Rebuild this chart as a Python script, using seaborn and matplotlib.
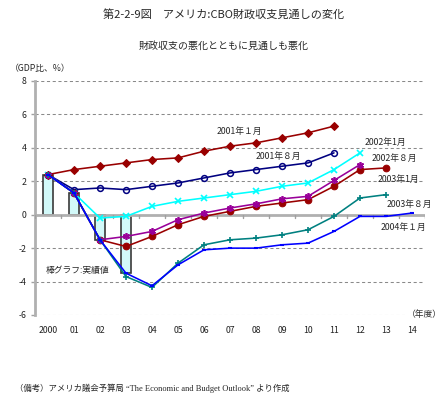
import numpy as np
import pandas as pd
import matplotlib
matplotlib.use('Agg')
import matplotlib.pyplot as plt
import seaborn as sns

nan = np.nan
years = ['2000', '01', '02', '03', '04', '05', '06', '07', '08', '09', '10', '11', '12', '13', '14']
actual = [2.4, 1.3, -1.5, -3.5, nan, nan, nan, nan, nan, nan, nan, nan, nan, nan, nan]
s_2001_01 = [2.4, 2.7, 2.9, 3.1, 3.3, 3.4, 3.8, 4.1, 4.3, 4.6, 4.9, 5.3, nan, nan, nan]
s_2001_08 = [2.4, 1.5, 1.6, 1.5, 1.7, 1.9, 2.2, 2.5, 2.7, 2.9, 3.1, 3.7, nan, nan, nan]
s_2002_01 = [2.4, 1.3, -0.2, -0.1, 0.5, 0.8, 1.0, 1.2, 1.4, 1.7, 1.9, 2.7, 3.7, nan, nan]
s_2002_08 = [2.4, 1.3, -1.5, -1.9, -1.3, -0.6, -0.1, 0.2, 0.5, 0.7, 0.9, 1.7, 2.7, 2.8, nan]
s_2003_01 = [2.4, 1.3, -1.5, -1.3, -1.0, -0.3, 0.1, 0.4, 0.65, 0.95, 1.1, 2.05, 3.0, nan, nan]
s_2003_08 = [2.4, 1.3, -1.5, -3.7, -4.35, -2.9, -1.8, -1.5, -1.4, -1.2, -0.9, -0.1, 1.0, 1.2, nan]
s_2004_01 = [2.4, 1.3, -1.5, -3.5, -4.25, -3.0, -2.1, -2.0, -2.0, -1.8, -1.7, -1.0, -0.1, -0.1, 0.1]
y_ticks = [8, 6, 4, 2, 0, -2, -4, -6]

sns.set_theme(style='white')
plt.rcParams['font.family'] = ['Noto Sans CJK JP', 'DejaVu Sans']
plt.rcParams['axes.unicode_minus'] = False

fig = plt.figure(figsize=(4.48, 4.12), dpi=100)
ax = fig.add_axes([35 / 448, 1 - 315 / 412, 390 / 448, 234 / 412])

idx = np.arange(len(years))
df_bar = pd.DataFrame({'x': idx, 'y': actual}).dropna()
sns.barplot(data=df_bar, x='x', y='y', native_scale=True, width=0.42,
            color='#ccffff', edgecolor='#3a3a3a', linewidth=1.2, ax=ax, zorder=2)

series = [
    ('2001_01', s_2001_01, '#990000', dict(marker='D', markersize=3.6, markerfacecolor='#990000', markeredgecolor='#990000')),
    ('2001_08', s_2001_08, '#000080', dict(marker='o', markersize=4.2, markerfacecolor='none', markeredgecolor='#000080', markeredgewidth=1.1)),
    ('2002_01', s_2002_01, '#00ffff', dict(marker='x', markersize=4.5, markeredgecolor='#00ffff', markeredgewidth=1.2)),
    ('2002_08', s_2002_08, '#990000', dict(marker='o', markersize=4.8, markerfacecolor='#990000', markeredgecolor='#990000')),
    ('2003_01', s_2003_01, '#990099', dict(marker=(6, 2, 0), markersize=5, markeredgecolor='#990099', markeredgewidth=1.2)),
    ('2003_08', s_2003_08, '#008080', dict(marker='+', markersize=5, markeredgecolor='#008080', markeredgewidth=1.2)),
    ('2004_01', s_2004_01, '#0000ff', dict(marker='_', markersize=3.5, markeredgecolor='#0000ff', markeredgewidth=1.5)),
]
for name, vals, col, mk in series:
    d = pd.DataFrame({'x': idx, 'y': vals}).dropna()
    sns.lineplot(data=d, x='x', y='y', color=col, linewidth=1.15, errorbar=None,
                 ax=ax, zorder=4, **mk)

ax.set_xlim(-0.5, len(years) - 0.5)
ax.set_ylim(-6, 8)
ax.set_yticks(y_ticks)
ax.set_yticklabels([str(v) for v in y_ticks], fontsize=6.3, color='#222222')
ax.set_xticks(idx)
ax.set_xticklabels([])
ax.tick_params(axis='x', length=0)
ax.tick_params(axis='y', length=3, width=1, color='#a0a0a0', pad=3, direction='out', left=True)
for v in y_ticks:
    if v != 0:
        ax.axhline(v, color='#8a8a8a', linestyle=(0, (3, 2.5)), linewidth=0.75, zorder=0)
ax.axhline(0, color='#b0b0b0', linewidth=2, zorder=3)
for b in np.arange(len(years) + 1) - 0.5:
    ax.plot([b, b], [0, -0.18], color='#a0a0a0', linewidth=1, zorder=3)

for s in ['top', 'right', 'bottom']:
    ax.spines[s].set_visible(False)
ax.spines['left'].set_color('#b0b0b0')
ax.spines['left'].set_linewidth(2)
ax.set_xlabel('')
ax.set_ylabel('')

# x category labels below the plot
for i, lab in enumerate(years):
    ax.text(i, -6.95, lab, ha='center', va='center', fontsize=6.3, color='#222222')

fs = 6.3
ax.text(6.5, 5.0, '2001年１月', fontsize=fs, ha='left', va='center')
ax.text(8.0, 3.47, '2001年８月', fontsize=fs, ha='left', va='center')
ax.text(12.19, 4.33, '2002年1月', fontsize=fs, ha='left', va='center')
ax.text(12.46, 3.38, '2002年８月', fontsize=fs, ha='left', va='center')
ax.text(12.69, 2.08, '2003年1月', fontsize=fs, ha='left', va='center')
ax.text(13.02, 0.62, '2003年８月', fontsize=fs, ha='left', va='center')
ax.text(12.8, -0.75, '2004年１月', fontsize=fs, ha='left', va='center')
ax.text(-0.08, -3.35, '棒グラフ:実績値', fontsize=fs, ha='left', va='center')
ax.text(13.8, -6.0, '（年度）', fontsize=fs, ha='left', va='center',
        bbox=dict(facecolor='white', edgecolor='none', pad=1))

fig.text(0.5, 1 - 15 / 412, '第2-2-9図　アメリカ:CBO財政収支見通しの変化', ha='center', va='center', fontsize=8)
fig.text(0.5, 1 - 46 / 412, '財政収支の悪化とともに見通しも悪化', ha='center', va='center', fontsize=7.2)
fig.text(10 / 448, 1 - 68 / 412, '（GDP比、%）', ha='left', va='center', fontsize=6.3)
fig.text(15 / 448, 1 - 388 / 412, '（備考）アメリカ議会予算局 “The Economic and Budget Outlook” より作成',
         ha='left', va='center', fontsize=6.0, family=['Liberation Serif', 'Noto Sans CJK JP'])

fig.savefig('out.png', dpi=100)
